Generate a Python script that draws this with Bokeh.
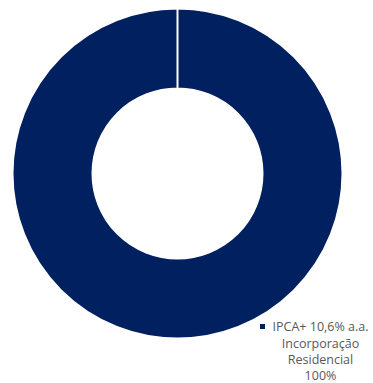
from bokeh.plotting import figure
from bokeh.models import Range1d, ColumnDataSource
from bokeh.core.properties import value
from bokeh.embed import file_html
from bokeh.resources import INLINE
import math

categories = ["IPCA+ 10,6% a.a. Incorporação Residencial"]
shares = [100]
colors = ["#002060"]
legend_lines = ["IPCA+ 10,6% a.a.", "Incorporação", "Residencial", "100%"]

W, H = 373, 383
p = figure(width=W, height=H, output_backend="svg", toolbar_location=None,
           x_range=Range1d(0, W), y_range=Range1d(0, H), min_border=0)
p.axis.visible = False
p.grid.visible = False
p.outline_line_color = None
p.background_fill_color = "white"

total = sum(shares)
starts, ends = [], []
acc = 0
for s in shares:
    a0 = math.pi / 2 - 2 * math.pi * acc / total
    acc += s
    a1 = math.pi / 2 - 2 * math.pi * acc / total
    starts.append(a1)
    ends.append(a0)

src = ColumnDataSource(dict(start=starts, end=ends, color=colors))
cx, cy = 177, H - 173
p.annular_wedge(x=cx, y=cy, inner_radius=85, outer_radius=165,
                start_angle="start", end_angle="end", fill_color="color",
                line_color="white", line_width=2, source=src)

# legend
p.scatter(x=[262], y=[H - 326], marker="square", size=5, color=colors[0], line_color=None)
ys = [H - 326, H - 342.5, H - 359, H - 375]
p.text(x=[320] * len(legend_lines), y=ys, text=legend_lines,
       text_font=value("Open Sans"), text_font_size="12.5px", text_color="#595959",
       text_align="center", text_baseline="middle")

open("out.html", "w").write(file_html(p, INLINE))
